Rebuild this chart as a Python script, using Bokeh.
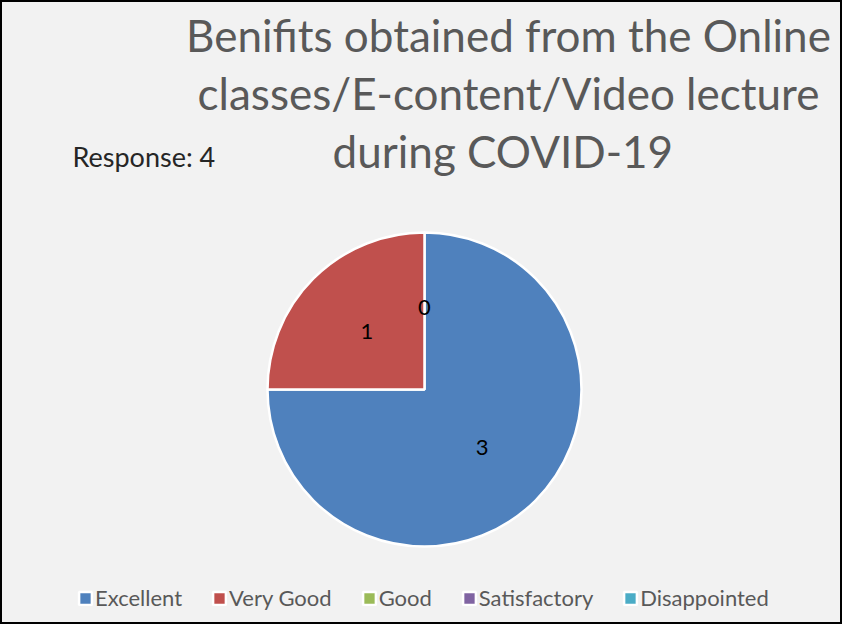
import math
from bokeh.plotting import figure
from bokeh.models import ColumnDataSource, Legend, LegendItem, Range1d
from bokeh.core.properties import value
from bokeh.embed import file_html
from bokeh.resources import INLINE

# ---- data ----
categories = ["Excellent", "Very Good", "Good", "Satisfactory", "Disappointed"]
counts = [3, 1, 0, 0, 0]
colors = ["#4F81BD", "#C0504D", "#9BBB59", "#8064A2", "#4BACC6"]
title_lines = ["Benifits obtained from the Online",
               "classes/E-content/Video lecture",
               "during  COVID-19"]
response_text = "Response: 4"

# ---- layout constants ----
W, H = 842, 624
CX, CY, R = 424, 235, 157
FONT = "Lato"

p = figure(width=W, height=H, output_backend="svg", toolbar_location=None,
           x_range=Range1d(0, W), y_range=Range1d(0, H), min_border=0)
p.axis.visible = False
p.grid.visible = False
p.background_fill_color = "#f2f2f2"
p.border_fill_color = "#f2f2f2"
p.outline_line_color = "black"
p.outline_line_width = 3

total = sum(counts)
starts, ends, lx, ly, labels, radii = [], [], [], [], [], []
ang = math.pi / 2
shown_zero = False
for c in counts:
    sweep = 2 * math.pi * c / total
    starts.append(ang)
    ends.append(ang - sweep)
    radii.append(R if c > 0 else 0)   # empty slices are not drawn
    mid = ang - sweep / 2
    lx.append(CX + 0.52 * R * math.cos(mid))
    ly.append(CY + 0.52 * R * math.sin(mid))
    if c > 0 or not shown_zero:
        labels.append(str(c))
        if c == 0:
            shown_zero = True
    else:
        labels.append("")
    ang -= sweep

src = ColumnDataSource(dict(cat=categories, count=counts, color=colors,
                            start=starts, end=ends, radius=radii,
                            lx=lx, ly=ly, label=labels))

wr = p.wedge(x=CX, y=CY, radius="radius", start_angle="start", end_angle="end",
             direction="clock", fill_color="color", line_color="white",
             line_width=2.5, source=src)

p.text(x="lx", y="ly", text="label", source=src, text_align="center",
       text_baseline="middle", text_font=value(FONT), text_font_size="22px",
       text_color="black")

# title
p.text(x=[508] * 3, y=[590, 532, 474], text=title_lines, text_align="center",
       text_baseline="alphabetic", text_font=value(FONT), text_font_size="44px",
       text_color="#595959")

p.text(x=[72], y=[468], text=[response_text], text_align="left",
       text_baseline="alphabetic", text_font=value(FONT), text_font_size="27px",
       text_color="#262626")

items = [LegendItem(label=categories[i], renderers=[wr], index=i)
         for i in range(len(categories))]
legend = Legend(items=items, orientation="horizontal", location=(77, 13),
                label_text_font=FONT, label_text_font_size="22px",
                label_text_color="#595959", glyph_width=16, glyph_height=16,
                label_standoff=2, spacing=29, padding=0, margin=0,
                border_line_color=None, background_fill_alpha=0)
p.add_layout(legend, "center")

open("out.html", "w").write(file_html(p, INLINE))
